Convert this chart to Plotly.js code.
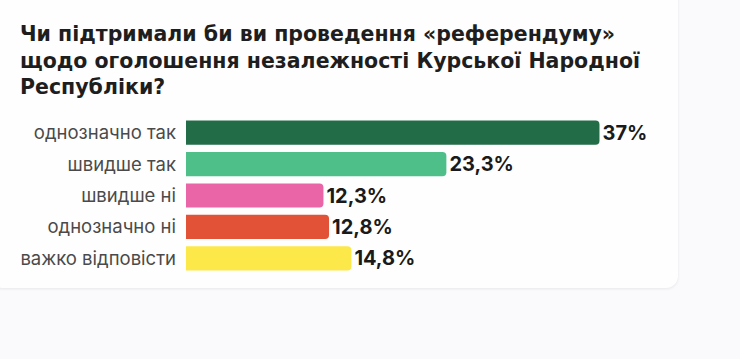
<!DOCTYPE html>
<html><head><meta charset="utf-8">
<script src="https://cdn.plot.ly/plotly-3.0.1.min.js"></script>
<style>
html,body{margin:0;padding:0;background:#faf9fc;width:740px;height:359px;overflow:hidden;}
#card{position:absolute;left:-10px;top:-20px;width:688px;height:308px;background:#fefeff;border-radius:12px;box-shadow:0 1px 3px rgba(0,0,0,0.08);}
#chart{position:absolute;left:0;top:0;width:740px;height:359px;}
</style></head>
<body>
<div id="card"></div>
<div id="chart"></div>
<script>
const categories = ["однозначно так","швидше так","швидше ні","однозначно ні","важко відповісти"];
const values = [37, 23.3, 12.3, 12.8, 14.8];
const valueLabels = ["37%","23,3%","12,3%","12,8%","14,8%"];
const colors = ["#236c48","#4fbf8a","#e965a8","#e15236","#fde84a"];
const titleText = "Чи підтримали би ви проведення «референдуму»<br>щодо оголошення незалежності Курської Народної<br>Республіки?";

const trace = {
  type: "bar",
  orientation: "h",
  y: categories,
  x: values,
  text: valueLabels,
  textposition: "outside",
  cliponaxis: false,
  textfont: {family: "Inter, Roboto, sans-serif", size: 20, color: "#1a1a1a", weight: 700},
  marker: {color: colors, cornerradius: 4},
  hoverinfo: "none"
};
const layout = {
  width: 740, height: 359,
  paper_bgcolor: "rgba(0,0,0,0)",
  plot_bgcolor: "rgba(0,0,0,0)",
  margin: {l: 186, r: 107, t: 117, b: 85},
  bargap: 0.23,
  showlegend: false,
  title: {
    text: titleText,
    xref: "container", yref: "container",
    x: 20/740, xanchor: "left",
    y: 1 - 41/359, yanchor: "top",
    font: {family: "DejaVu Sans, sans-serif", size: 20.5, color: "#1e1e1e", weight: 700}
  },
  xaxis: {range: [0, 40], visible: false, fixedrange: true},
  yaxis: {
    autorange: "reversed",
    showgrid: false, zeroline: false, showline: false,
    ticks: "", ticklabelstandoff: 9,
    tickfont: {family: "Inter, Roboto, sans-serif", size: 18.5, color: "#4a4a4a"}
  }
};
Plotly.newPlot("chart", [trace], layout, {displayModeBar: false, staticPlot: true});
</script>
</body></html>
